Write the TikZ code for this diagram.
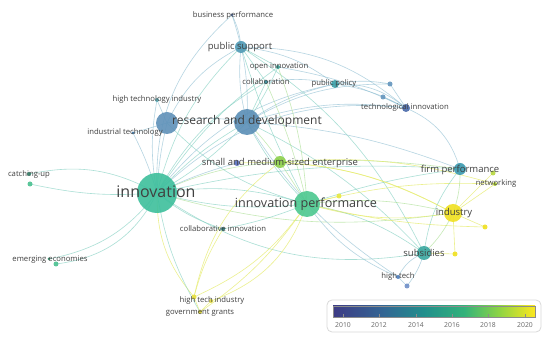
\documentclass[tikz,border=0pt]{standalone}
\usepackage{fontspec}
\setmainfont{Open Sans}
\pgfdeclarehorizontalshading{viridis}{100bp}{rgb(0bp)=(0.24,0.23,0.52); rgb(25bp)=(0.24,0.23,0.52); rgb(37.5bp)=(0.2,0.4,0.58); rgb(47.5bp)=(0.13,0.56,0.55); rgb(57.5bp)=(0.2,0.7,0.48); rgb(66bp)=(0.55,0.83,0.27); rgb(75bp)=(0.99,0.91,0.12); rgb(100bp)=(0.99,0.91,0.12)}
\definecolor{txt}{HTML}{404040}
\definecolor{eteal}{HTML}{7FCFC0}
\definecolor{eblue}{HTML}{8FBFD3}
\definecolor{egreen}{HTML}{A8DE90}
\definecolor{eyel}{HTML}{E6EC6A}
\begin{document}
\begin{tikzpicture}[x=1pt,y=-1pt,
  dot/.style={circle,inner sep=0pt,draw=none,opacity=0.9},
  lab/.style={inner sep=0pt,text=txt,font=\fontsize{7.7}{8}\selectfont},
  labm/.style={inner sep=0pt,text=txt,font=\fontsize{9.5}{10}\selectfont},
  et/.style={draw=eteal,line width=0.6pt,opacity=0.65},
  eb/.style={draw=eblue,line width=0.6pt,opacity=0.65},
  eg/.style={draw=egreen,line width=0.6pt,opacity=0.65},
  ey/.style={draw=eyel,line width=0.6pt,opacity=0.75},
  tick/.style={inner sep=0pt,text=black!60,font=\fontsize{6.8}{7}\selectfont}]
\useasboundingbox (0,0) rectangle (550,339);
\fill[white] (0,0) rectangle (550,339);
% coordinates of nodes
\coordinate (bp) at (232,15);
\coordinate (ps) at (241,47);
\coordinate (oi) at (278,67);
\coordinate (col) at (266,82);
\coordinate (pp) at (335,84);
\coordinate (s1) at (390,84);
\coordinate (s2) at (383,97);
\coordinate (ti) at (406,108);
\coordinate (hti) at (157,100);
\coordinate (rd) at (247,122);
\coordinate (rd2) at (167,123);
\coordinate (it) at (133,133);
\coordinate (cu) at (29,174);
\coordinate (cu2) at (30,184);
\coordinate (inn) at (157,193);
\coordinate (smeb) at (237,163);
\coordinate (sme) at (280,162);
\coordinate (ip) at (307,204);
\coordinate (ipy) at (339,196);
\coordinate (ci) at (223,229);
\coordinate (ee) at (49,259);
\coordinate (ee2) at (56,264);
\coordinate (hti2) at (194,297);
\coordinate (hti3) at (211,301);
\coordinate (gg) at (200,312);
\coordinate (fp) at (460,169);
\coordinate (fpy) at (493,173);
\coordinate (net) at (495,184);
\coordinate (ind) at (453,213);
\coordinate (indy1) at (485,227);
\coordinate (indy2) at (455,254);
\coordinate (sub) at (424,253);
\coordinate (ht) at (398,277);
\coordinate (ht2) at (407,286);
% edges
\draw[et] (inn) to[bend right=20] (cu);
\draw[et] (inn) to[bend left=8] (cu2);
\draw[et] (inn) to[bend left=20] (ee);
\draw[et] (inn) to[bend left=28] (ee2);
\draw[et] (inn) to[bend left=8] (rd);
\draw[et] (inn) to[bend right=8] (rd);
\draw[eb] (inn) to[bend left=5] (rd2);
\draw[et] (inn) to[bend left=15] (ps);
\draw[eb] (inn) to[bend left=25] (bp);
\draw[eb] (inn) to[bend left=10] (hti);
\draw[eb] (inn) to[bend right=5] (it);
\draw[et] (inn) to[bend right=10] (ip);
\draw[et] (inn) to[bend left=12] (ip);
\draw[eg] (inn) to[bend left=10] (sme);
\draw[eb] (inn) to[bend left=5] (smeb);
\draw[et] (inn) to[bend right=10] (ci);
\draw[ey] (inn) to[bend right=20] (hti2);
\draw[et] (inn) to[bend right=10] (gg);
\draw[eb] (inn) to[bend left=20] (pp);
\draw[eb] (inn) to[bend left=25] (ti);
\draw[et] (inn) to[bend left=8] (fp);
\draw[et] (inn) to[bend right=22] (sub);
\draw[eg] (inn) to[bend right=12] (ind);
\draw[et] (inn) to[bend left=15] (col);
\draw[et] (inn) to[bend left=10] (oi);
\draw[eb] (rd) to[bend left=10] (ps);
\draw[et] (rd) to (col);
\draw[et] (rd) to[bend right=5] (oi);
\draw[eb] (rd) to[bend left=10] (pp);
\draw[eb] (rd) to[bend left=12] (ti);
\draw[et] (rd) to[bend right=8] (ip);
\draw[et] (rd) to[bend left=10] (sub);
\draw[eb] (rd) to[bend left=8] (fp);
\draw[eb] (rd) to[bend right=12] (ht);
\draw[eb] (rd) to[bend left=15] (s1);
\draw[eg] (rd) to[bend left=5] (sme);
\draw[eb] (rd2) to[bend left=18] (ps);
\draw[eb] (rd2) to (hti);
\draw[eb] (rd2) to (it);
\draw[et] (rd2) to[bend right=15] (ip);
\draw[eb] (rd2) to[bend left=10] (rd);
\draw[eb] (ps) to[bend right=10] (bp);
\draw[et] (ps) to (col);
\draw[et] (ps) to (oi);
\draw[eb] (ps) to[bend left=15] (pp);
\draw[eb] (ps) to[bend left=20] (ti);
\draw[et] (ps) to[bend right=5] (ip);
\draw[et] (ps) to[bend left=15] (sub);
\draw[eb] (bp) to[bend left=10] (rd);
\draw[ey] (ip) to[bend right=12] (ind);
\draw[eg] (ip) to[bend left=10] (ind);
\draw[et] (ip) to[bend left=5] (fp);
\draw[et] (ip) to[bend left=12] (sub);
\draw[eb] (ip) to[bend right=15] (ht);
\draw[ey] (ip) to[bend left=15] (hti2);
\draw[ey] (ip) to[bend left=10] (gg);
\draw[ey] (ip) to[bend left=25] (hti3);
\draw[et] (ip) to[bend left=5] (ci);
\draw[ey] (ip) to[bend left=8] (net);
\draw[eg] (ip) to (sme);
\draw[ey] (ip) to (ipy);
\draw[ey] (ip) to[bend right=6] (indy1);
\draw[ey] (sme) to[bend left=12] (ind);
\draw[eg] (sme) to[bend left=5] (fp);
\draw[ey] (sme) to[bend left=10] (net);
\draw[ey] (sme) to[bend right=20] (hti2);
\draw[ey] (ind) to (net);
\draw[ey] (ind) to (fpy);
\draw[eg] (ind) to[bend right=10] (fp);
\draw[ey] (ind) to (indy1);
\draw[ey] (ind) to (indy2);
\draw[eg] (ind) to[bend left=10] (sub);
\draw[eb] (ti) to[bend left=25] (fp);
\draw[eb] (ti) to[bend right=10] (pp);
\draw[eb] (ti) to (s1);
\draw[eb] (ti) to (s2);
\draw[eb] (pp) to[bend left=10] (s1);
\draw[eb] (pp) to[bend left=20] (ti);
\draw[eb] (col) to[bend left=10] (pp);
\draw[eb] (oi) to[bend left=8] (ti);
\draw[et] (fp) to[bend right=15] (sub);
\draw[eb] (sub) to[bend right=20] (ht);
\draw[eb] (sub) to[bend left=10] (ht2);
\draw[ey] (sub) to (indy2);
\draw[eb] (ht) to (ht2);
\draw[ey] (ci) to[bend right=8] (hti2);
\draw[ey] (gg) to (hti3);
\draw[ey] (hti2) to (gg);
\draw[eg] (col) to[bend left=5] (ip);
\draw[eg] (oi) to[bend left=8] (ip);
\draw[ey] (smeb) to[bend left=15] (ind);
% nodes
\node[dot,fill={rgb,255:red,74;green,106;blue,168},minimum size=3pt] (n-bp) at (bp) {};
\node[dot,fill={rgb,255:red,79;green,154;blue,181},minimum size=12pt] (n-ps) at (ps) {};
\node[dot,fill={rgb,255:red,58;green,154;blue,144},minimum size=4pt] (n-oi) at (oi) {};
\node[dot,fill={rgb,255:red,58;green,138;blue,152},minimum size=4pt] (n-col) at (col) {};
\node[dot,fill={rgb,255:red,58;green,160;blue,168},minimum size=8pt] (n-pp) at (pp) {};
\node[dot,fill={rgb,255:red,100;green,150;blue,190},minimum size=5pt] (n-s1) at (s1) {};
\node[dot,fill={rgb,255:red,100;green,150;blue,190},minimum size=5pt] (n-s2) at (s2) {};
\node[dot,fill={rgb,255:red,74;green,106;blue,170},minimum size=8pt] (n-ti) at (ti) {};
\node[dot,fill={rgb,255:red,90;green,170;blue,180},minimum size=4pt] (n-hti) at (hti) {};
\node[dot,fill={rgb,255:red,95;green,145;blue,185},minimum size=22pt] (n-rd2) at (rd2) {};
\node[dot,fill={rgb,255:red,90;green,142;blue,182},minimum size=26pt] (n-rd) at (rd) {};
\node[dot,fill={rgb,255:red,58;green,112;blue,160},minimum size=3pt] (n-it) at (it) {};
\node[dot,fill={rgb,255:red,50;green,150;blue,120},minimum size=4pt] (n-cu) at (cu) {};
\node[dot,fill={rgb,255:red,74;green,192;blue,144},minimum size=5pt] (n-cu2) at (cu2) {};
\node[dot,fill={rgb,255:red,61;green,191;blue,156},minimum size=40pt] (n-inn) at (inn) {};
\node[dot,fill={rgb,255:red,90;green,112;blue,192},minimum size=6pt] (n-smeb) at (smeb) {};
\node[dot,fill={rgb,255:red,140;green,208;blue,74},minimum size=12pt] (n-sme) at (sme) {};
\node[dot,fill={rgb,255:red,76;green,200;blue,144},minimum size=26pt] (n-ip) at (ip) {};
\node[dot,fill={rgb,255:red,232;green,232;blue,64},minimum size=5pt] (n-ipy) at (ipy) {};
\node[dot,fill={rgb,255:red,42;green,128;blue,128},minimum size=4pt] (n-ci) at (ci) {};
\node[dot,fill={rgb,255:red,42;green,154;blue,112},minimum size=3pt] (n-ee) at (ee) {};
\node[dot,fill={rgb,255:red,74;green,192;blue,144},minimum size=5pt] (n-ee2) at (ee2) {};
\node[dot,fill={rgb,255:red,232;green,224;blue,64},minimum size=5pt] (n-hti2) at (hti2) {};
\node[dot,fill={rgb,255:red,224;green,216;blue,64},minimum size=4pt] (n-hti3) at (hti3) {};
\node[dot,fill={rgb,255:red,216;green,208;blue,48},minimum size=4pt] (n-gg) at (gg) {};
\node[dot,fill={rgb,255:red,58;green,154;blue,176},minimum size=12pt] (n-fp) at (fp) {};
\node[dot,fill={rgb,255:red,184;green,216;blue,64},minimum size=5pt] (n-fpy) at (fpy) {};
\node[dot,fill={rgb,255:red,168;green,200;blue,48},minimum size=4pt] (n-net) at (net) {};
\node[dot,fill={rgb,255:red,240;green,224;blue,32},minimum size=18pt] (n-ind) at (ind) {};
\node[dot,fill={rgb,255:red,240;green,224;blue,32},minimum size=5pt] (n-indy1) at (indy1) {};
\node[dot,fill={rgb,255:red,240;green,224;blue,32},minimum size=5pt] (n-indy2) at (indy2) {};
\node[dot,fill={rgb,255:red,58;green,168;blue,160},minimum size=14pt] (n-sub) at (sub) {};
\node[dot,fill={rgb,255:red,80;green,128;blue,192},minimum size=4pt] (n-ht) at (ht) {};
\node[dot,fill={rgb,255:red,112;green,144;blue,200},minimum size=5pt] (n-ht2) at (ht2) {};
% labels
\node[lab] (l-bp) at (233,15) {business performance};
\node[labm] (l-ps) at (240,47) {public support};
\node[lab] (l-oi) at (279,67) {open innovation};
\node[lab] (l-col) at (266,82) {collaboration};
\node[lab] (l-pp) at (334,84) {public policy};
\node[lab] (l-ti) at (405,108) {technological innovation};
\node[lab] (l-hti) at (157,100) {high technology industry};
\node[inner sep=0pt,text=txt,font=\fontsize{12}{13}\selectfont] (l-rd) at (247,121) {research and development};
\node[lab] (l-it) at (125,133) {industrial technology};
\node[lab] (l-cu) at (29,175) {catching-up};
\node[inner sep=0pt,text=txt,font=\fontsize{16}{17}\selectfont] (l-inn) at (156,192) {innovation};
\node[labm] (l-sme) at (280,163) {small and medium-sized enterprise};
\node[inner sep=0pt,text=txt,font=\fontsize{12.6}{13}\selectfont] (l-ip) at (306,204) {innovation performance};
\node[lab] (l-ci) at (223,229) {collaborative innovation};
\node[lab] (l-ee) at (50,260) {emerging economies};
\node[lab] (l-hti2) at (212,301) {high tech industry};
\node[lab] (l-gg) at (200,313) {government grants};
\node[labm] (l-fp) at (460,170) {firm performance};
\node[lab] (l-net) at (496,184) {networking};
\node[labm] (l-ind) at (454,213) {industry};
\node[labm] (l-sub) at (424,253) {subsidies};
\node[lab] (l-ht) at (398,277) {high tech};
% colour bar
\draw[black!15,line width=0.8pt,rounded corners=5pt,fill=white] (327,300) rectangle (541,332);
\shade[shading=viridis] (333,306) rectangle (535,317);
\draw[black!45,line width=0.4pt] (333,306) rectangle (535,317);
\foreach \x/\y in {343/2010,379/2012,416/2014,452/2016,488/2018,525/2020}{
  \draw[black!45,line width=0.4pt] (\x,314) -- (\x,317);
  \node[tick] (t\y) at (\x,325) {\y};
}
\end{tikzpicture}
\end{document}
